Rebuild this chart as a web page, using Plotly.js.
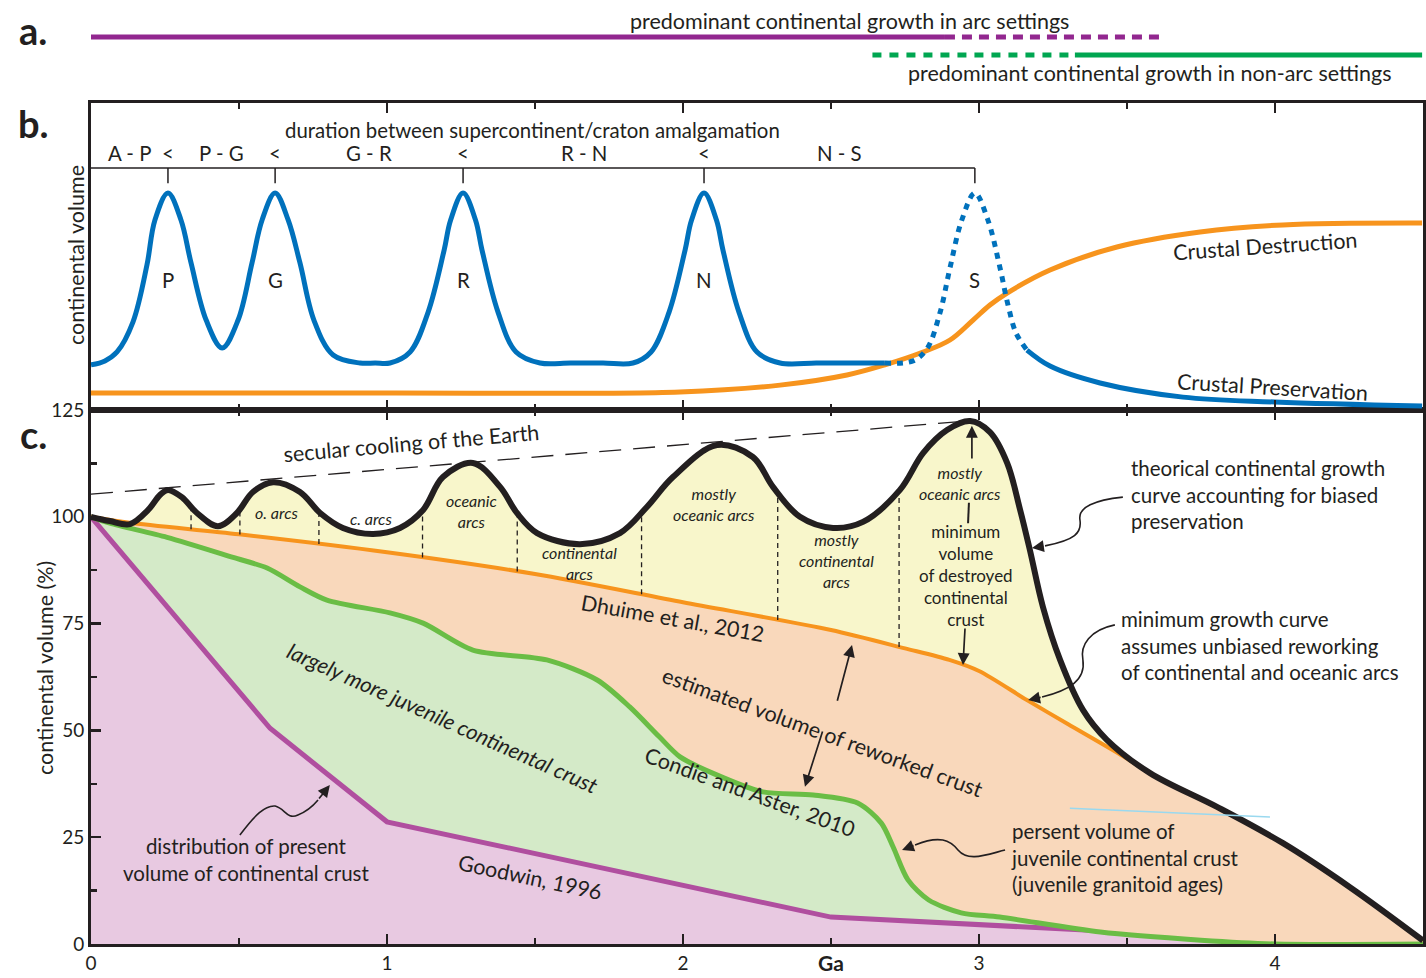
<!DOCTYPE html>
<html>
<head>
<meta charset="utf-8">
<script src="https://cdn.plot.ly/plotly-3.0.1.min.js"></script>
<style>
  html, body { margin: 0; padding: 0; background: #fff; }
  #chart { width: 1426px; height: 978px; }
</style>
</head>
<body>
<div id="chart"></div>
<script>
// ---------- colours & fonts ----------
const INK = '#231f20';
const FONT = 'Lato, "Open Sans", sans-serif';
const BLUE = '#0071bc';
const ORANGE = '#f7941d';
const PURPLE_A = '#92278f';
const GREEN_A = '#00a651';
const BASE = 21.5;

// ---------- panel a: growth setting ranges (Ga) ----------
const arcSolidAge = [-0.01, 2.885];
const arcDashAge = [2.885, 3.628];
const nonArcDashAge = [2.64, 3.324];
const nonArcSolidAge = [3.324, 4.497];

// ---------- panel b: supercontinent cycle ----------
const scNames = ['P', 'G', 'R', 'N', 'S'];
const scAges = [0.260, 0.622, 1.257, 2.071, 2.986];
const intervalLabels = ['A - P', 'P - G', 'G - R', 'R - N', 'N - S'];

const blueSolidAge = [0, 0.047, 0.088, 0.142, 0.189, 0.216, 0.260, 0.304, 0.338, 0.389, 0.443, 0.497, 0.544, 0.578, 0.622, 0.666, 0.706, 0.753, 0.818, 0.909, 0.96, 1.010, 1.078, 1.139, 1.193, 1.215, 1.257, 1.299, 1.321, 1.375, 1.436, 1.517, 1.62, 1.73, 1.831, 1.892, 1.953, 2.007, 2.029, 2.071, 2.113, 2.135, 2.189, 2.250, 2.328, 2.45, 2.57, 2.682];
const blueSolidVol = [14.7, 16.0, 18.9, 28.7, 47.2, 61.9, 70.7, 61.9, 47.9, 29.3, 20.2, 29.3, 47.9, 61.9, 70.7, 61.9, 47.9, 29.3, 17.9, 15.3, 15.3, 15.3, 18.9, 31.9, 52.1, 61.9, 70.7, 61.9, 52.1, 31.9, 18.9, 15.3, 15.3, 15.3, 15.3, 18.9, 31.9, 52.1, 61.9, 70.7, 61.9, 52.1, 31.9, 18.9, 15.3, 15.3, 15.3, 15.3];
const blueDotAge = [2.682, 2.777, 2.824, 2.868, 2.902, 2.942, 2.986, 3.030, 3.071, 3.098, 3.125, 3.162];
const blueDotVol = [15.3, 16.0, 19.9, 31.6, 46.3, 61.9, 70.7, 61.9, 46.3, 34.2, 25.1, 19.5];
const blueTailAge = [3.162, 3.240, 3.409, 3.689, 4.0, 4.497];
const blueTailVol = [19.5, 14.3, 8.8, 4.2, 2.6, 1.3];

const destructionAge = [0, 0.976, 1.99, 2.328, 2.554, 2.682, 2.811, 2.902, 2.980, 3.037, 3.095, 3.240, 3.466, 3.747, 4.027, 4.497];
const destructionVol = [5.5, 5.5, 5.9, 8.1, 11.4, 14.7, 18.9, 22.8, 29.3, 34.2, 38.1, 45.6, 53.1, 58.0, 60.3, 60.9];

// ---------- panel c: growth curves (age Ga, continental volume %) ----------
const goodwinAge = [0, 0.605, 1.0, 2.5, 4.0, 4.5];
const goodwinVol = [100, 50.5, 28.6, 6.3, 1.0, 0.4];

const condieAge = [0, 0.064, 0.257, 0.48, 0.595, 0.706, 0.797, 1.01, 1.122, 1.29, 1.54, 1.71, 1.82, 1.92, 1.99, 2.10, 2.27, 2.44, 2.59, 2.67, 2.71, 2.76, 2.83, 2.94, 3.07, 3.41, 3.75, 4.0, 4.5];
const condieVol = [100, 98.5, 95.2, 90.5, 88.0, 83.6, 80.5, 77.5, 75.1, 68.8, 66.5, 61.8, 55.5, 48.5, 43.8, 40.0, 35.6, 34.9, 33.0, 28.3, 22.7, 15.0, 10.3, 7.3, 6.3, 2.8, 0.9, 0, 0];

const dhuimeAge = [0, 0.13, 0.5, 1.0, 1.5, 2.0, 2.5, 2.75, 2.9, 3.0, 3.162, 3.3, 3.486, 3.578, 3.804, 4.027, 4.253, 4.5];
const dhuimeVol = [100, 98.6, 95.9, 91.7, 86.6, 80.0, 73.5, 69.2, 66.5, 63.9, 57.1, 51.5, 44.0, 40.0, 32.1, 23.6, 13.3, 0.8];

const theoryAge = [0, 0.064, 0.132, 0.193, 0.233, 0.260, 0.307, 0.358, 0.429, 0.493, 0.547, 0.615, 0.706, 0.774, 0.851, 0.953, 1.044, 1.122, 1.189, 1.29, 1.382, 1.439, 1.507, 1.652, 1.787, 1.878, 1.966, 2.115, 2.236, 2.304, 2.395, 2.507, 2.608, 2.733, 2.811, 2.892, 2.970, 3.037, 3.095, 3.139, 3.172, 3.216, 3.274, 3.351, 3.432, 3.578, 3.804, 4.027, 4.253, 4.5];
const theoryVol = [100, 99.0, 98.3, 101.6, 105.1, 106.3, 104.6, 100.9, 97.8, 100.9, 105.8, 108.1, 105.8, 100.9, 97.4, 96.0, 97.4, 101.6, 109.3, 112.6, 107.0, 100.9, 96.2, 93.6, 96.2, 102.3, 109.3, 116.8, 114.0, 107.0, 100.0, 97.4, 98.8, 106.3, 114.9, 120.3, 122.4, 119.8, 112.6, 101.6, 92.2, 78.9, 66.5, 54.8, 47.8, 40.0, 32.1, 23.6, 13.3, 0.8];

const coolingAge = [0, 2.97];
const coolingVol = [105.3, 122.5];

// boundaries between arc-dominated intervals
const arcBoundaries = [0.338, 0.503, 0.77, 1.12, 1.44, 1.86, 2.32, 2.73];

// ---------- helpers ----------
function interp(xs, ys, x) {
  for (let i = 1; i < xs.length; i++) {
    if (x <= xs[i]) {
      const t = (x - xs[i - 1]) / (xs[i] - xs[i - 1]);
      return ys[i - 1] + t * (ys[i] - ys[i - 1]);
    }
  }
  return ys[ys.length - 1];
}

// ---------- traces ----------
const traces = [];
function line(x, y, xa, ya, color, width, extra) {
  traces.push(Object.assign({
    type: 'scatter', mode: 'lines', x: x, y: y, xaxis: xa, yaxis: ya,
    line: { color: color, width: width }, hoverinfo: 'skip', showlegend: false, cliponaxis: false
  }, extra || {}));
}

// panel a
line(arcSolidAge, [1, 1], 'x3', 'y3', PURPLE_A, 5);
line(arcDashAge, [1, 1], 'x3', 'y3', PURPLE_A, 5, { line: { color: PURPLE_A, width: 5, dash: '10px,7px' } });
line(nonArcDashAge, [0, 0], 'x3', 'y3', GREEN_A, 5, { line: { color: GREEN_A, width: 5, dash: '9px,8px' } });
line(nonArcSolidAge, [0, 0], 'x3', 'y3', GREEN_A, 5);

// panel b
line(destructionAge, destructionVol, 'x2', 'y2', ORANGE, 5, { line: { color: ORANGE, width: 5, shape: 'spline', smoothing: 1 } });
line(blueSolidAge, blueSolidVol, 'x2', 'y2', BLUE, 5, { line: { color: BLUE, width: 5, shape: 'spline', smoothing: 1 } });
line(blueDotAge, blueDotVol, 'x2', 'y2', BLUE, 5, { line: { color: BLUE, width: 5, shape: 'spline', smoothing: 1, dash: '6px,6px' } });
line(blueTailAge, blueTailVol, 'x2', 'y2', BLUE, 5, { line: { color: BLUE, width: 5, shape: 'spline', smoothing: 1 } });

// panel c: stacked areas
line(goodwinAge, goodwinVol, 'x', 'y', '#b04f9f', 5, { fill: 'tozeroy', fillcolor: '#e8c9e1', cliponaxis: true });
line(condieAge, condieVol, 'x', 'y', '#6abd45', 5, { fill: 'tonexty', fillcolor: '#d4eac8', cliponaxis: true, line: { color: '#6abd45', width: 5, shape: 'spline', smoothing: 0.8 } });
line(dhuimeAge, dhuimeVol, 'x', 'y', ORANGE, 4, { fill: 'tonexty', fillcolor: '#f9d8bb', cliponaxis: true, line: { color: ORANGE, width: 4, shape: 'spline', smoothing: 0.8 } });
line(theoryAge, theoryVol, 'x', 'y', INK, 6, { fill: 'tonexty', fillcolor: '#f8f6cb', cliponaxis: true, line: { color: INK, width: 6, shape: 'spline', smoothing: 1 } });
line(coolingAge, coolingVol, 'x', 'y', INK, 1.3, { line: { color: INK, width: 1.3, dash: '22px,12px' } });

// ---------- shapes ----------
const shapes = [];
// bracket of supercontinent intervals
const bracketTop = 78.8, bracketTick = 73.9;
shapes.push({ type: 'line', xref: 'x2', yref: 'y2', x0: 0, x1: scAges[scAges.length - 1], y0: bracketTop, y1: bracketTop, line: { color: INK, width: 1.5 } });
scAges.forEach(a => shapes.push({ type: 'line', xref: 'x2', yref: 'y2', x0: a, x1: a, y0: bracketTop, y1: bracketTick, line: { color: INK, width: 1.5 } }));

// dashed separators between arc types, from the minimum curve up to the theoretical curve
arcBoundaries.forEach(a => shapes.push({
  type: 'line', xref: 'x', yref: 'y', x0: a, x1: a,
  y0: interp(dhuimeAge, dhuimeVol, a), y1: interp(theoryAge, theoryVol, a),
  line: { color: INK, width: 1.3, dash: '5px,4px' }
}));

// small connector above "minimum volume"
shapes.push({ type: 'line', xref: 'x', yref: 'y', x0: 2.966, x1: 2.963, y0: 103.3, y1: 98.5, line: { color: INK, width: 2 } });

// faint stray stroke in the right-hand area
shapes.push({ type: 'line', xref: 'x', yref: 'y', x0: 3.307, x1: 3.983, y0: 31.8, y1: 29.7, line: { color: '#9ad9ef', width: 1.5 } });

// wavy leader lines
const leaders = [
  'M0.503,25.5 C0.554,30.2 0.588,32.5 0.622,32.3 C0.655,31.8 0.662,29.0 0.699,30.2 C0.733,31.1 0.750,32.3 0.767,33.7',
  'M3.486,104.6 C3.392,103.9 3.334,102.3 3.341,99.3 C3.348,96.2 3.324,94.6 3.223,93.2',
  'M3.459,74.7 C3.375,73.5 3.341,70.0 3.351,66.5 C3.361,61.8 3.307,59.5 3.213,57.8',
  'M3.088,22.0 C3.020,20.8 2.963,19.2 2.929,22.0 C2.902,24.3 2.868,25.5 2.784,23.2'
];
leaders.forEach(p => shapes.push({ type: 'path', xref: 'x', yref: 'y', path: p, line: { color: INK, width: 1.6 } }));

// ---------- annotations ----------
const annotations = [];
function label(text, x, y, o) {
  annotations.push(Object.assign({
    text: text, x: x, y: y, xref: 'x', yref: 'y', showarrow: false,
    xanchor: 'center', yanchor: 'middle',
    font: { family: FONT, size: BASE, color: INK }
  }, o || {}));
}
function block(lines, x, y, o) {
  label(lines.join('<br>'), x, y, o);
}
function arrow(x, y, ax, ay, o) {
  annotations.push(Object.assign({
    text: '', x: x, y: y, xref: 'x', yref: 'y', ax: ax, ay: ay,
    showarrow: true, arrowhead: 2, arrowsize: 1.4, arrowwidth: 1.7, arrowcolor: INK, standoff: 0
  }, o || {}));
}

// panel tags
const tagFont = { family: FONT, size: 38, color: INK };
[['a.', 1 - 30 / 978], ['b.', 1 - 123 / 978], ['c.', 1 - 434 / 978]].forEach(([t, y]) =>
  label('<b>' + t + '</b>', 33 / 1426, y, { xref: 'paper', yref: 'paper', font: tagFont }));

// panel a captions
label('predominant continental growth in arc settings', 2.564, 1 - 21 / 978, { yref: 'paper' });
label('predominant continental growth in non-arc settings', 3.578, 1 - 73 / 978, { yref: 'paper' });

// axis titles
label('continental volume (%)', 45 / 1426, 1 - 668 / 978, { xref: 'paper', yref: 'paper', textangle: -90 });
label('continental volume', 76 / 1426, 1 - 255 / 978, { xref: 'paper', yref: 'paper', textangle: -90 });
label('<b>Ga</b>', 2.5, 1 - 977 / 978, { yref: 'paper', yanchor: 'bottom', font: { family: FONT, size: 21, color: INK } });

// panel b labels
const bOpts = { xref: 'x2', yref: 'y2', font: { family: FONT, size: 20.4, color: INK } };
label('duration between supercontinent/craton amalgamation', 1.49, 91.2, bOpts);
scAges.forEach((a, i) => {
  const prev = i === 0 ? 0 : scAges[i - 1];
  label(intervalLabels[i], (prev + a) / 2, 83.7, bOpts);
  if (i < scAges.length - 1) label('<', a, 83.7, bOpts);
  label(scNames[i], a, 42.3, bOpts);
});
label('Crustal Destruction', 3.966, 53.4, { xref: 'x2', yref: 'y2', textangle: -4 });
label('Crustal Preservation', 3.99, 7.5, { xref: 'x2', yref: 'y2', textangle: 3.5 });

// panel c labels
label('secular cooling of the Earth', 1.084, 117.3, { textangle: -5 });
const it = { font: { family: FONT, size: 16, color: INK } };
label('<i>o. arcs</i>', 0.628, 100.9, it);
label('<i>c. arcs</i>', 0.946, 99.7, it);
block(['<i>oceanic</i>', '<i>arcs</i>'], 1.287, 101.4, it);
block(['<i>continental</i>', '<i>arcs</i>'], 1.652, 89.2, it);
block(['<i>mostly</i>', '<i>oceanic arcs</i>'], 2.105, 102.9, it);
block(['<i>mostly</i>', '<i>continental</i>', '<i>arcs</i>'], 2.517, 89.7, it);
block(['<i>mostly</i>', '<i>oceanic arcs</i>'], 2.936, 108.0, it);
block(['minimum', 'volume', 'of destroyed', 'continental', 'crust'], 2.956, 86.2, { font: { family: FONT, size: 17, color: INK } });

label('Dhuime et al., 2012', 1.963, 76.3, { textangle: 10 });
label('estimated volume of reworked crust', 2.470, 49.6, { textangle: 20 });
label('<i>largely more juvenile continental crust</i>', 1.186, 52.9, { textangle: 24 });
label('Condie and Aster, 2010', 2.226, 35.6, { textangle: 20 });
label('Goodwin, 1996', 1.483, 15.7, { textangle: 12 });

const para = { font: { family: FONT, size: 20.5, color: INK } };
block(['distribution of present', 'volume of continental crust'], 0.524, 19.8, para);
const left = { xanchor: 'left', align: 'left', font: para.font };
block(['theorical continental growth', 'curve accounting for biased', 'preservation'], 3.507, 105.2, left);
block(['minimum growth curve', 'assumes unbiased reworking', 'of continental and oceanic arcs'], 3.473, 69.9, left);
block(['persent volume of', 'juvenile continental crust', '(juvenile granitoid ages)'], 3.101, 20.2, left);

// arrow heads for the wavy leaders (tail offsets in pixels)
arrow(0.807, 37.2, -12, 15);
arrow(3.179, 92.7, 13, -2);
arrow(3.166, 57.1, 14, -3);
arrow(2.740, 22.0, 13, -5);

// straight arrows (tails in data units)
const dataTail = { axref: 'x', ayref: 'y' };
arrow(2.976, 121.3, 2.976, 113.3, dataTail);
arrow(2.946, 65.3, 2.953, 74.2, dataTail);
arrow(2.571, 70.0, 2.520, 56.6, dataTail);
arrow(2.412, 36.8, 2.473, 50.1, dataTail);

// ---------- layout ----------
const W = 1426, H = 978;
const xDomain = [91 / W, 1423 / W];
const yC = [1 - 944 / H, 1 - 410 / H];
const yB = [1 - 410 / H, 1 - 103 / H];
const tickFont = { family: FONT, size: 19, color: INK };

const xCommon = {
  range: [0, 4.5], domain: xDomain, showgrid: false, zeroline: false,
  showline: true, linecolor: INK, linewidth: 3, mirror: 'allticks',
  ticks: 'inside', ticklen: 10, tickwidth: 2.5, tickcolor: INK, dtick: 1, tick0: 0,
  minor: { dtick: 0.5, ticks: 'inside', ticklen: 6, tickwidth: 2.5, tickcolor: INK },
  tickfont: tickFont, automargin: false, fixedrange: true
};

const layout = {
  width: W, height: H,
  margin: { l: 0, r: 0, t: 0, b: 0 },
  paper_bgcolor: '#fff', plot_bgcolor: 'rgba(0,0,0,0)',
  font: { family: FONT, color: INK },
  showlegend: false,
  xaxis: Object.assign({}, xCommon, { anchor: 'y' }),
  xaxis2: Object.assign({}, xCommon, { anchor: 'y2', matches: 'x', showticklabels: false }),
  xaxis3: { range: [0, 4.5], domain: xDomain, anchor: 'y3', matches: 'x', visible: false, fixedrange: true },
  yaxis: {
    domain: yC, range: [0, 125], showgrid: false, zeroline: false,
    showline: true, linecolor: INK, linewidth: 3, mirror: true,
    ticks: 'inside', ticklen: 10, tickwidth: 2.5, tickcolor: INK, dtick: 25, tick0: 0,
    minor: { dtick: 12.5, ticks: 'inside', ticklen: 6, tickwidth: 2.5, tickcolor: INK },
    tickfont: tickFont, automargin: false, fixedrange: true
  },
  yaxis2: {
    domain: yB, range: [0, 100], anchor: 'x2', showgrid: false, zeroline: false,
    showline: true, linecolor: INK, linewidth: 3, mirror: true,
    ticks: '', showticklabels: false, automargin: false, fixedrange: true
  },
  // band for panel a: y = 1 sits at 37 px, y = 0 at 55 px from the top
  yaxis3: {
    domain: [1 - 64 / H, 1 - 28 / H], range: [-0.5, 1.5], anchor: 'x3', visible: false, fixedrange: true
  },
  shapes: shapes,
  annotations: annotations
};

Plotly.newPlot('chart', traces, layout, { staticPlot: true, displayModeBar: false });
</script>
</body>
</html>
